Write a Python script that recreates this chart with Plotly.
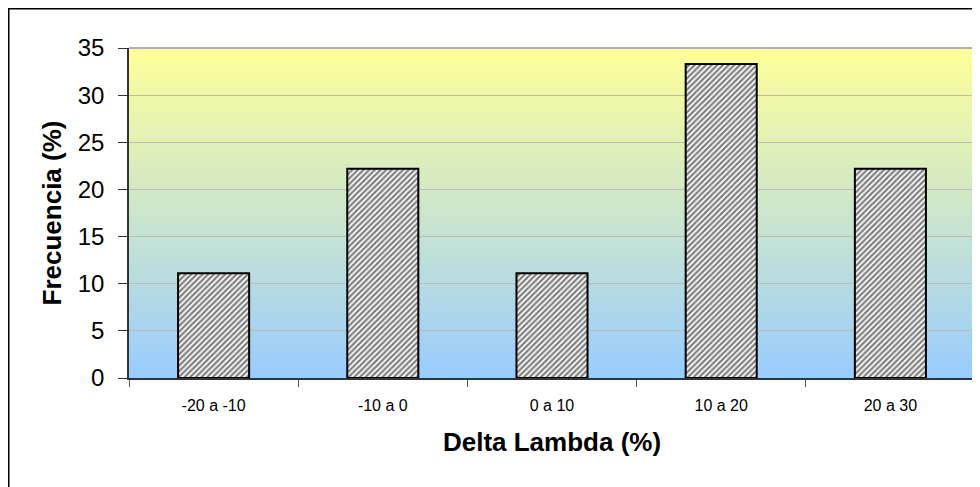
import plotly.graph_objects as go

categories = ["-20 a -10", "-10 a 0", "0 a 10", "10 a 20", "20 a 30"]
frecuencia = [11.1, 22.2, 11.1, 33.3, 22.2]
y_ticks = [0, 5, 10, 15, 20, 25, 30, 35]

W, H = 980, 487
OFF = 8  # page body margin offset
L, R, T, B = 129 - OFF, 13, 48 - OFF, 117
pw, ph = W - L - R, H - T - B

def px_x(p):
    return (p - OFF - L) / pw

def px_y(p):
    return (H - B - (p - OFF)) / ph

fig = go.Figure()
fig.add_trace(go.Bar(
    x=categories, y=frecuencia,
    marker=dict(color="white", line=dict(color="black", width=2),
                pattern=dict(shape="/", fgcolor="black", bgcolor="white", size=4, solidity=0.55)),
    width=0.42,
))

# gradient background bands
shapes = []
top = (255, 255, 153)
bot = (153, 204, 255)
n = 110
for i in range(n):
    f0 = i / n
    f1 = (i + 1) / n
    t = (i + 0.5) / n  # 0 bottom, 1 top
    c = tuple(round(bot[k] + (top[k] - bot[k]) * t) for k in range(3))
    shapes.append(dict(type="rect", xref="paper", yref="paper", x0=0, x1=1, y0=f0, y1=f1 + 0.002,
                       fillcolor="rgb(%d,%d,%d)" % c, line=dict(width=0), layer="below"))
# plot-area border (top/right gray)
shapes.append(dict(type="line", xref="paper", yref="paper", x0=0, x1=1, y0=1, y1=1,
                   line=dict(color="#999999", width=1.5)))
shapes.append(dict(type="line", xref="paper", yref="paper", x0=1, x1=1, y0=0, y1=1,
                   line=dict(color="#999999", width=1.5)))
# outer chart border
shapes.append(dict(type="rect", xref="paper", yref="paper",
                   x0=px_x(8.75), x1=px_x(1000), y0=px_y(510), y1=px_y(8.75),
                   line=dict(color="black", width=1.5), fillcolor="rgba(0,0,0,0)"))

fig.update_layout(
    width=W, height=H,
    margin=dict(l=L, r=R, t=T, b=B),
    paper_bgcolor="white",
    plot_bgcolor="rgba(0,0,0,0)",
    shapes=shapes,
    showlegend=False,
    font=dict(family="Liberation Sans, Arial", color="black"),
    xaxis=dict(
        type="category", tickson="boundaries", ticks="outside", ticklen=7, tickcolor="#555555",
        showline=True, linecolor="#333333", linewidth=1.5, showgrid=False,
        tickfont=dict(size=16), range=[-0.5, 4.5], ticklabelstandoff=12,
        title=dict(text="<b>Delta Lambda (%)</b>", font=dict(size=26), standoff=20),
    ),
    yaxis=dict(
        range=[0, 35], tickvals=y_ticks, ticks="outside", ticklen=9, tickcolor="#333333",
        showline=True, linecolor="#333333", linewidth=1.5,
        showgrid=True, gridcolor="#BBBBBB", gridwidth=1, zeroline=False,
        tickfont=dict(size=24), ticklabelstandoff=9,
        title=dict(text="<b>Frecuencia (%)</b>", font=dict(size=26), standoff=9),
    ),
)

fig.write_html("out.html")
